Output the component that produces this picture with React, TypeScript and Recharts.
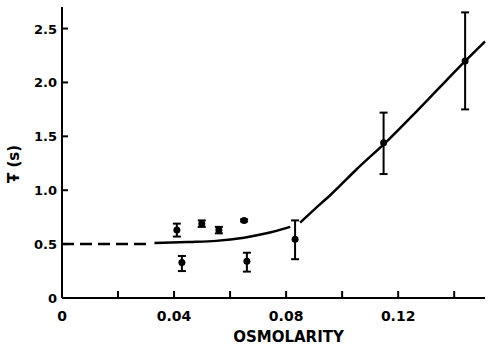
import { ComposedChart, XAxis, YAxis, Line, Scatter, ErrorBar } from "recharts";

// osmolarity ticks and labels
const xTicks = [0, 0.02, 0.04, 0.06, 0.08, 0.1, 0.12, 0.14];
const xTickLabels = ["0", "", "0.04", "", "0.08", "", "0.12", ""];
const yTicks = [0, 0.5, 1.0, 1.5, 2.0, 2.5];
const yTickLabels = ["0", "0.5", "1.0", "1.5", "2.0", "2.5"];

// measured points with error bar ends
const pointX = [0.041, 0.0428, 0.0499, 0.056, 0.065, 0.066, 0.0832, 0.1148, 0.1439];
const pointY = [0.63, 0.33, 0.69, 0.63, 0.72, 0.34, 0.545, 1.44, 2.2];
const pointLow = [0.57, 0.25, 0.66, 0.6, 0.71, 0.245, 0.36, 1.15, 1.75];
const pointHigh = [0.69, 0.39, 0.72, 0.66, 0.73, 0.42, 0.72, 1.72, 2.65];

// fitted curve: dashed extrapolation + solid part (null = gap)
const dashX = [0, 0.031];
const dashY = [0.5, 0.5];
const curveX = [0.033, 0.045, 0.055, 0.065, 0.073, 0.0815, 0.0832, 0.085, 0.09, 0.096, 0.105, 0.1166, 0.125, 0.135, 0.144, 0.151];
const curveY = [0.51, 0.52, 0.53, 0.56, 0.6, 0.66, null, 0.7, 0.82, 0.96, 1.19, 1.47, 1.69, 1.96, 2.2, 2.38];

const points = pointX.map((x, i) => ({
  x,
  y: pointY[i],
  err: [pointY[i] - pointLow[i], pointHigh[i] - pointY[i]],
}));
const dashData = dashX.map((x, i) => ({ x, y: dashY[i] }));
const curveData = curveX.map((x, i) => ({ x, y: curveY[i] }));

const font = "'DejaVu Sans', sans-serif";

const XTick = (props: any) => {
  const { x, y, payload } = props;
  const label = xTickLabels[xTicks.indexOf(payload.value)];
  return (
    <g>
      <line x1={x} y1={y} x2={x} y2={y - 7} stroke="#000" strokeWidth={2} />
      {label && (
        <text x={x} y={y + 23} textAnchor="middle" fontFamily={font} fontWeight="bold" fontSize={14} fill="#000">
          {label}
        </text>
      )}
    </g>
  );
};

const YTick = (props: any) => {
  const { x, y, payload } = props;
  const label = yTickLabels[yTicks.indexOf(payload.value)];
  return (
    <g>
      <line x1={x} y1={y} x2={x + 6} y2={y} stroke="#000" strokeWidth={2} />
      <text x={x - 5} y={y + 5} textAnchor="end" fontFamily={font} fontWeight="bold" fontSize={13} fill="#000">
        {label}
      </text>
    </g>
  );
};

const Dot = (p: any) => <circle cx={p.cx} cy={p.cy} r={3.5} fill="#000" />;

export default function App() {
  return (
    <div style={{ position: "absolute", left: 0, top: 0, background: "#fff" }}>
      <ComposedChart width={488} height={349} margin={{ top: 7, right: 3, bottom: 21, left: 20 }}>
        <XAxis
          dataKey="x"
          type="number"
          domain={[0, 0.151]}
          ticks={xTicks}
          tick={<XTick />}
          tickLine={false}
          tickSize={0}
          tickMargin={0}
          height={30}
          axisLine={{ stroke: "#000", strokeWidth: 2 }}
          interval={0}
          label={{
            content: (p: any) => (
              <text
                x={p.viewBox.x + p.viewBox.width / 2 + 15}
                y={p.viewBox.y + 44}
                textAnchor="middle"
                fontFamily={font}
                fontWeight="bold"
                fontSize={15}
                fill="#000"
              >
                OSMOLARITY
              </text>
            ),
          }}
        />
        <YAxis
          dataKey="y"
          type="number"
          domain={[0, 2.7]}
          ticks={yTicks}
          tick={<YTick />}
          tickLine={false}
          tickSize={0}
          tickMargin={0}
          width={42}
          interval={0}
          axisLine={{ stroke: "#000", strokeWidth: 2 }}
          label={{
            content: () => (
              <text
                x={19}
                y={164}
                transform="rotate(-90 19 164)"
                textAnchor="middle"
                fontFamily={font}
                fontWeight="bold"
                fontSize={15}
                fill="#000"
              >
                Ŧ (s)
              </text>
            ),
          }}
        />
        <Line
          data={dashData}
          dataKey="y"
          type="linear"
          stroke="#000"
          strokeWidth={2.5}
          strokeDasharray="12 6"
          dot={false}
          isAnimationActive={false}
        />
        <Line
          data={curveData}
          dataKey="y"
          type="monotone"
          stroke="#000"
          strokeWidth={2.5}
          dot={false}
          connectNulls={false}
          isAnimationActive={false}
        />
        <Scatter data={points} dataKey="y" shape={<Dot />} isAnimationActive={false}>
          <ErrorBar dataKey="err" direction="y" width={4} stroke="#000" strokeWidth={2} />
        </Scatter>
      </ComposedChart>
    </div>
  );
}
